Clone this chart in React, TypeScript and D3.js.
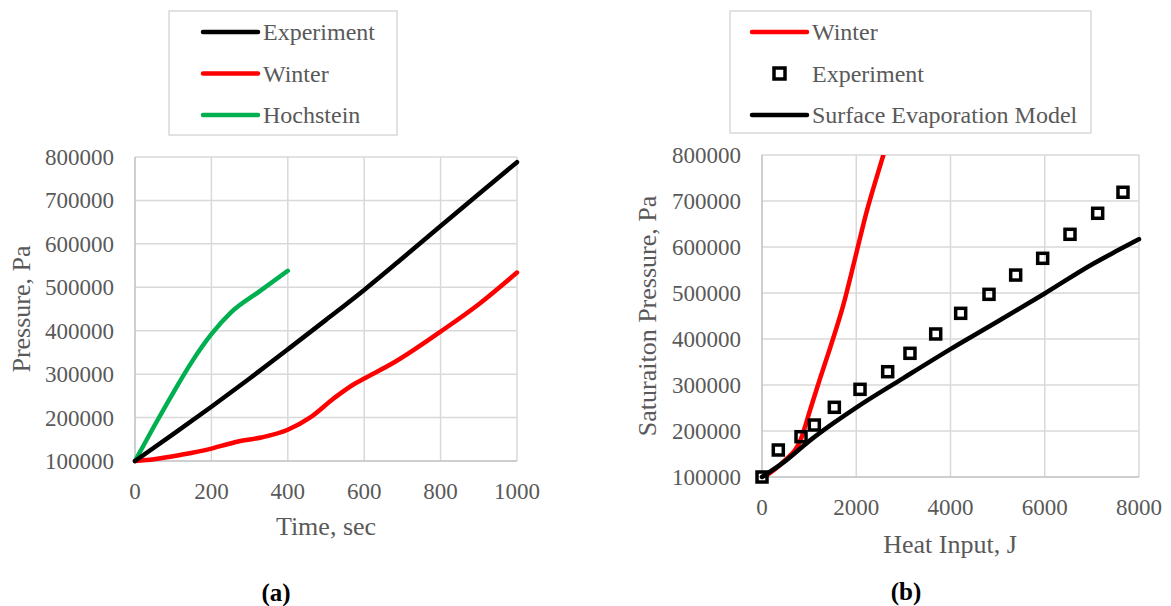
import * as d3 from "d3";

const pressureTicks = [100000, 200000, 300000, 400000, 500000, 600000, 700000, 800000];
const timeTicks = [0, 200, 400, 600, 800, 1000];
const heatTicks = [0, 2000, 4000, 6000, 8000];

// panel (a): pressure vs time
const expTime = [0, 100, 200, 300, 400, 500, 600, 700, 800, 900, 1000];
const expPressure = [100000, 162000, 225000, 290000, 357000, 425000, 494000, 567000, 641000, 715000, 788000];
const winterTime = [0, 50, 100, 150, 200, 240, 270, 330, 400, 460, 520, 575, 600, 680, 800, 900, 1000];
const winterPressure = [100000, 104000, 111000, 119000, 128600, 138000, 145000, 154000, 172000, 201000, 244000, 278000, 290000, 328000, 398000, 461000, 534000];
const hochTime = [0, 50, 100, 150, 200, 250, 325, 400];
const hochPressure = [100000, 180000, 257000, 330000, 392000, 441000, 490000, 538000];

// panel (b): saturation pressure vs heat input
const winterHeat = [0, 453, 828, 1019, 1231, 1443, 1726, 1974, 2221, 2469, 2640];
const winterSat = [97000, 133000, 183000, 245000, 314000, 380000, 474000, 575000, 677000, 764000, 822000];
const expHeat = [0, 346, 828, 1110, 1535, 2080, 2667, 3140, 3686, 4216, 4817, 5383, 5956, 6536, 7123, 7660];
const expSat = [100000, 158700, 187600, 213000, 251500, 290600, 328900, 368900, 410900, 455800, 497100, 539000, 575400, 627600, 673300, 719000];
const sevHeat = [0, 500, 1000, 1500, 2000, 3000, 4000, 5000, 6000, 7000, 7500, 8000];
const sevSat = [100000, 135000, 178000, 216000, 251000, 315000, 378000, 438000, 499000, 562000, 590000, 617000];

const FONT = "'Liberation Serif', 'Times New Roman', serif";
const TEXT = "#595959";
const GRID = "#d9d9d9";

type Pt = [number, number];
const zip = (xs: number[], ys: number[]): Pt[] => xs.map((x, i) => [x, ys[i]]);

interface LegendItem {
  label: string;
  color: string;
  kind: "line" | "square";
}

function Legend({ x, y, w, h, pad, items }: { x: number; y: number; w: number; h: number; pad: number; items: LegendItem[] }) {
  return (
    <g transform={`translate(${x},${y})`}>
      <rect width={w} height={h} fill="#fff" stroke={GRID} strokeWidth={1.5} />
      {items.map((it, i) => {
        const cy = 21 + i * 41.5;
        return (
          <g key={it.label}>
            {it.kind === "line" ? (
              <line x1={pad} x2={pad + 55} y1={cy} y2={cy} stroke={it.color} strokeWidth={4.5} strokeLinecap="round" />
            ) : (
              <rect x={pad + 22} y={cy - 5.5} width={11} height={11} fill="#fff" stroke={it.color} strokeWidth={3.5} />
            )}
            <text x={pad + 60} y={cy} dy="0.35em" fontSize={24} fill={TEXT} fontFamily={FONT}>
              {it.label}
            </text>
          </g>
        );
      })}
    </g>
  );
}

export default function App() {
  // panel (a) scales
  const xa = d3.scaleLinear().domain([0, 1000]).range([135, 517]);
  const ya = d3.scaleLinear().domain([100000, 800000]).range([461, 157]);
  // panel (b) scales
  const xb = d3.scaleLinear().domain([0, 8000]).range([762, 1139]);
  const yb = d3.scaleLinear().domain([100000, 800000]).range([477, 155]);

  const lineA = d3.line<Pt>().x((d) => xa(d[0])).y((d) => ya(d[1])).curve(d3.curveMonotoneX);
  const lineB = d3.line<Pt>().x((d) => xb(d[0])).y((d) => yb(d[1])).curve(d3.curveMonotoneX);

  // gridlines, axis lines and tick labels for one panel
  const grid = (x: d3.ScaleLinear<number, number>, y: d3.ScaleLinear<number, number>, xt: number[]) => {
    const [x0, x1] = x.range();
    const [y0, y1] = y.range();
    return (
      <g>
        {pressureTicks.slice(1).map((t) => (
          <line key={"h" + t} x1={x0} x2={x1} y1={y(t)} y2={y(t)} stroke={GRID} strokeWidth={1.5} />
        ))}
        {xt.slice(1).map((t) => (
          <line key={"v" + t} x1={x(t)} x2={x(t)} y1={y0} y2={y1} stroke={GRID} strokeWidth={1.5} />
        ))}
        <line x1={x0} x2={x0} y1={y0} y2={y1} stroke="#bfbfbf" strokeWidth={1.5} />
        <line x1={x0} x2={x1} y1={y0} y2={y0} stroke="#bfbfbf" strokeWidth={1.5} />
        {pressureTicks.map((t) => (
          <text key={"yl" + t} x={x0 - 21} y={y(t)} dy="0.35em" textAnchor="end" fontSize={23} fill={TEXT} fontFamily={FONT}>
            {t}
          </text>
        ))}
        {xt.map((t) => (
          <text key={"xl" + t} x={x(t)} y={y0 + 30} dy="0.35em" textAnchor="middle" fontSize={23} fill={TEXT} fontFamily={FONT}>
            {t}
          </text>
        ))}
      </g>
    );
  };

  return (
    <svg width={1171} height={606} style={{ position: "absolute", left: 0, top: 0, background: "#fff" }}>
      <defs>
        <clipPath id="clipB">
          <rect x={762} y={155} width={377} height={322} />
        </clipPath>
      </defs>

      {/* panel (a) */}
      {grid(xa, ya, timeTicks)}
      <path d={lineA(zip(hochTime, hochPressure)) ?? ""} fill="none" stroke="#00b050" strokeWidth={4.5} strokeLinecap="round" />
      <path d={lineA(zip(winterTime, winterPressure)) ?? ""} fill="none" stroke="#ff0000" strokeWidth={4.5} strokeLinecap="round" />
      <path d={lineA(zip(expTime, expPressure)) ?? ""} fill="none" stroke="#000" strokeWidth={4.5} strokeLinecap="round" />
      <text x={326} y={526} dy="0.35em" textAnchor="middle" fontSize={26} fill={TEXT} fontFamily={FONT}>
        Time, sec
      </text>
      <text transform={`translate(21,309) rotate(-90)`} dy="0.35em" textAnchor="middle" fontSize={26} fill={TEXT} fontFamily={FONT}>
        Pressure, Pa
      </text>
      <text x={276} y={592} dy="0.35em" textAnchor="middle" fontSize={25} fontWeight="bold" fill="#000" fontFamily={FONT}>
        (a)
      </text>
      <Legend
        x={169}
        y={11}
        w={228}
        h={124}
        pad={34}
        items={[
          { label: "Experiment", color: "#000", kind: "line" },
          { label: "Winter", color: "#ff0000", kind: "line" },
          { label: "Hochstein", color: "#00b050", kind: "line" },
        ]}
      />

      {/* panel (b) */}
      {grid(xb, yb, heatTicks)}
      <path clipPath="url(#clipB)" d={lineB(zip(winterHeat, winterSat)) ?? ""} fill="none" stroke="#ff0000" strokeWidth={4.5} strokeLinecap="round" />
      <path d={lineB(zip(sevHeat, sevSat)) ?? ""} fill="none" stroke="#000" strokeWidth={4.5} strokeLinecap="round" />
      {zip(expHeat, expSat).map((d, i) => (
        <rect key={i} x={xb(d[0]) - 5} y={yb(d[1]) - 5} width={10} height={10} fill="none" stroke="#000" strokeWidth={3.5} />
      ))}
      <text x={950} y={544} dy="0.35em" textAnchor="middle" fontSize={26} fill={TEXT} fontFamily={FONT}>
        Heat Input, J
      </text>
      <text transform={`translate(647,316) rotate(-90)`} dy="0.35em" textAnchor="middle" fontSize={26} fill={TEXT} fontFamily={FONT}>
        Saturaiton Pressure, Pa
      </text>
      <text x={906} y={591} dy="0.35em" textAnchor="middle" fontSize={25} fontWeight="bold" fill="#000" fontFamily={FONT}>
        (b)
      </text>
      <Legend
        x={730}
        y={11}
        w={361}
        h={122}
        pad={22}
        items={[
          { label: "Winter", color: "#ff0000", kind: "line" },
          { label: "Experiment", color: "#000", kind: "square" },
          { label: "Surface Evaporation Model", color: "#000", kind: "line" },
        ]}
      />
    </svg>
  );
}
